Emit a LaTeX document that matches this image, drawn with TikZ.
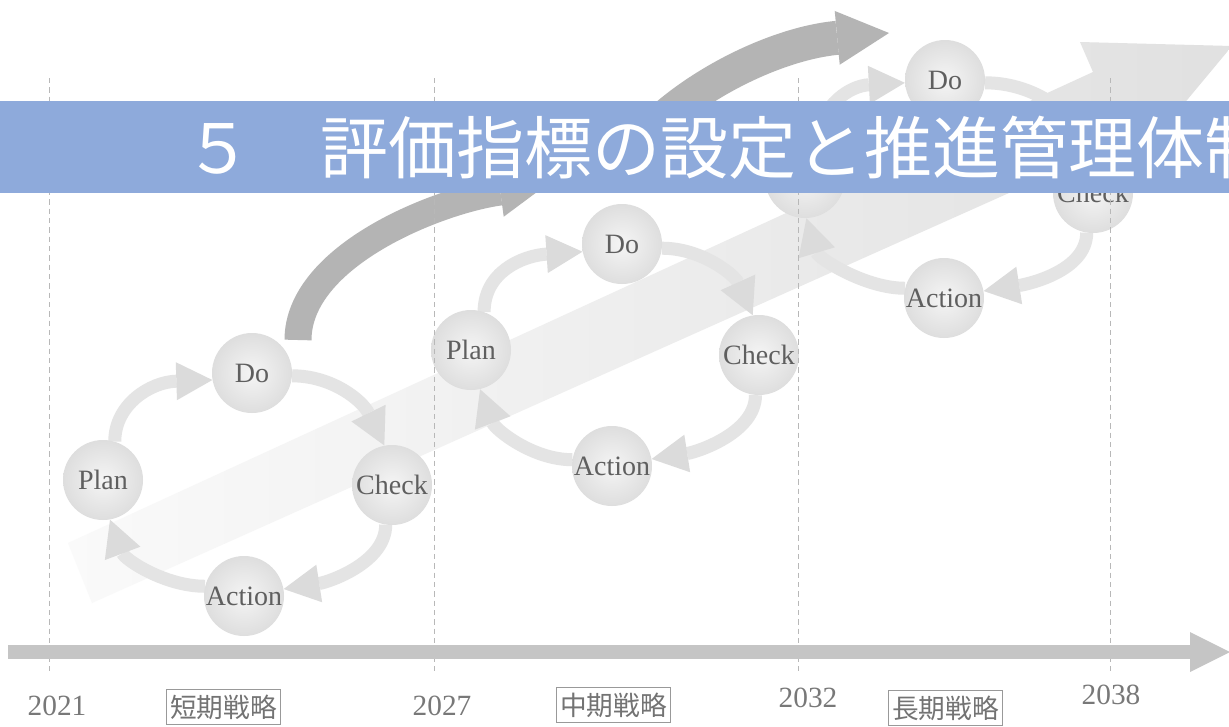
\documentclass[tikz,border=0pt]{standalone}
\usepackage{fontspec}
\setmainfont{Liberation Serif}
\newfontfamily\jpfont{Noto Sans CJK JP}
\usetikzlibrary{arrows.meta}
\definecolor{bannerblue}{RGB}{142,170,219}
\definecolor{darkarrow}{RGB}{180,180,180}
\definecolor{cycgray}{RGB}{228,228,228}
\definecolor{cychead}{RGB}{219,219,219}
\definecolor{timegray}{RGB}{197,197,197}
\definecolor{txtgray}{RGB}{95,95,95}
\definecolor{yeargray}{RGB}{120,120,120}
\begin{document}
\begin{tikzpicture}[x=0.75pt,y=-0.75pt,
  pdcanode/.style={circle, minimum size=60pt, inner sep=0pt, inner color=black!4, outer color=black!13, text=txtgray, font=\fontsize{21}{21}\selectfont},
  cyc/.style={draw=cycgray, line width=9.75pt, -{Triangle[length=27pt,width=28.5pt,line width=0pt,fill=cychead,color=cychead]}},
  bigarrow/.style={draw=darkarrow, line width=#1},
  guide/.style={draw=black!28, line width=0.7pt, dash pattern=on 4pt off 3pt},
  yearlabel/.style={text=yeargray, font=\fontsize{22}{22}\selectfont, inner sep=0pt},
  termbox/.style={draw=black!40, line width=0.7pt, text=black!55, font=\jpfont\fontsize{20}{20}\selectfont, minimum width=86pt, minimum height=26pt, inner sep=1pt}
]
\useasboundingbox (0,0) rectangle (1229,726);
\clip (0,0) rectangle (1229,726);
\fill[white] (0,0) rectangle (1229,726);

% broad light arrow in the background
\shade[left color=black!2, right color=black!12]
  (68,543) -- (1093,72) -- (1080,42) -- (1232,46) -- (1133,165) -- (1123,142) -- (92,603) -- cycle;

% dark curved arrows
\coordinate (a0) at (298,340);
\coordinate (a1) at (545,186);
\coordinate (b0) at (615,180);
\coordinate (b1) at (889,33);
\draw[bigarrow=20.25pt, -{Triangle[length=33.75pt,width=37.5pt,line width=0pt]}]
  (a0) .. controls (298,255) and (440,200) .. (a1);
\draw[bigarrow=25.5pt, -{Triangle[length=39pt,width=40.5pt,line width=0pt]}]
  (b0) .. controls (645,110) and (760,45) .. (b1);

% PDCA node positions
\coordinate (p1c) at (103,480);
\coordinate (d1c) at (252,373);
\coordinate (c1c) at (392,485);
\coordinate (a1c) at (244,596);
\coordinate (p2c) at (471,350);
\coordinate (d2c) at (622,244);
\coordinate (c2c) at (759,355);
\coordinate (a2c) at (612,466);
\coordinate (p3c) at (805,178);
\coordinate (d3c) at (945,80);
\coordinate (c3c) at (1093,193);
\coordinate (a3c) at (944,298);

% invisible placeholders so connectors can be routed by name
\begin{scope}[every node/.style={circle, minimum size=60pt, inner sep=0pt}]
\node (P1) at (p1c) {}; \node (D1) at (d1c) {}; \node (C1) at (c1c) {}; \node (A1) at (a1c) {};
\node (P2) at (p2c) {}; \node (D2) at (d2c) {}; \node (C2) at (c2c) {}; \node (A2) at (a2c) {};
\node (P3) at (p3c) {}; \node (D3) at (d3c) {}; \node (C3) at (c3c) {}; \node (A3) at (a3c) {};
\end{scope}

% cycle arrows
\draw[cyc] (P1.73) .. controls +(0,-37) and +(-62,2) .. (D1.190);
\draw[cyc] (D1.-4) .. controls +(40,0) and +(-22,-45) .. (C1.101);
\draw[cyc] (C1.261) .. controls +(0,38) and +(45,-7) .. (A1.10);
\draw[cyc] (A1.166) .. controls +(-40,0) and +(15,40) .. (P1.-80);

\draw[cyc] (P2.71) .. controls +(0,-40) and +(-60,4) .. (D2.191);
\draw[cyc] (D2.-6) .. controls +(40,0) and +(-18,-40) .. (C2.99);
\draw[cyc] (C2.265) .. controls +(0,38) and +(45,-7) .. (A2.10);
\draw[cyc] (A2.171) .. controls +(-40,0) and +(15,40) .. (P2.-77);

\draw[cyc] (P3.73) .. controls +(5,-35) and +(-55,3) .. (D3.184);
\draw[cyc] (D3.-4) .. controls +(45,0) and +(-22,-45) .. (C3.101);
\draw[cyc] (C3.261) .. controls +(0,38) and +(45,-7) .. (A3.10);
\draw[cyc] (A3.166) .. controls +(-40,0) and +(12,40) .. (P3.-88);

% PDCA circles
\node[pdcanode] (P1s) at (p1c) {Plan};
\node[pdcanode] (D1s) at (d1c) {Do};
\node[pdcanode] (C1s) at (c1c) {Check};
\node[pdcanode] (A1s) at (a1c) {Action};
\node[pdcanode] (P2s) at (p2c) {Plan};
\node[pdcanode] (D2s) at (d2c) {Do};
\node[pdcanode] (C2s) at (c2c) {Check};
\node[pdcanode] (A2s) at (a2c) {Action};
\node[pdcanode] (P3s) at (p3c) {};
\node[pdcanode] (D3s) at (d3c) {Do};
\node[pdcanode] (C3s) at (c3c) {Check};
\node[pdcanode] (A3s) at (a3c) {Action};

% guides
\foreach \gx/\gn in {49/g1, 434/g2, 798/g3, 1110/g4} {
  \coordinate (\gn top) at (\gx,78);
  \coordinate (\gn bot) at (\gx,672);
  \draw[guide] (\gn top) -- (\gn bot);
}

% time axis
\coordinate (t0) at (8,652);
\coordinate (t1) at (1230,652);
\draw[draw=timegray, line width=10.5pt, -{Triangle[length=30pt,width=30pt,line width=0pt]}] (t0) -- (t1);

\node[yearlabel] (y1) at (57,706) {2021};
\node[yearlabel] (y2) at (442,706) {2027};
\node[yearlabel] (y3) at (808,698) {2032};
\node[yearlabel] (y4) at (1111,695) {2038};

\node[termbox] (s1) at (223.5,707) {短期戦略};
\node[termbox] (s2) at (613.5,705) {中期戦略};
\node[termbox] (s3) at (945.5,708) {長期戦略};

% title banner
\fill[bannerblue] (0,101) rectangle (1229,193);
\node[anchor=base west, text=white, font=\jpfont\fontsize{51}{51}\selectfont, inner sep=0pt] (title) at (184,173) {５　評価指標の設定と推進管理体制};
\end{tikzpicture}
\end{document}
